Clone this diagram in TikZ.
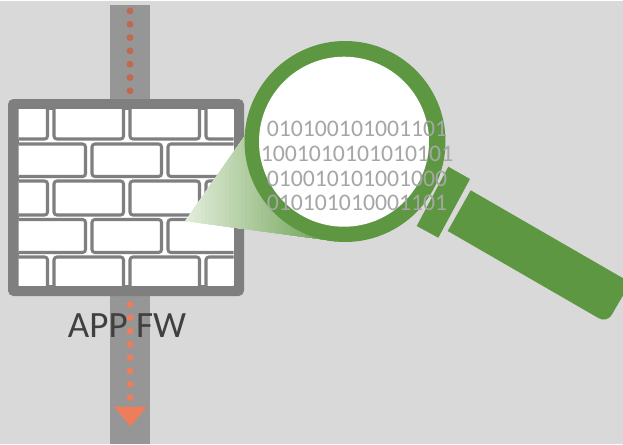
\documentclass[tikz,border=0pt]{standalone}
\usepackage{fontspec}
\setmainfont{Carlito}
\usepackage{xcolor}
\definecolor{bggray}{HTML}{D9D9D9}
\definecolor{wallgray}{HTML}{7F7F7F}
\definecolor{pipegray}{HTML}{969696}
\definecolor{lensgreen}{HTML}{5E9742}
\definecolor{conelight}{HTML}{E2EDDB}
\definecolor{dotorange}{HTML}{ED7D5B}
\definecolor{dottop}{HTML}{C0694F}
\usetikzlibrary{calc,positioning}
\tikzset{
    brick/.style={draw=wallgray, line width=2.3pt, fill=white, rounded corners=2.2pt},
    bits/.style={text=black!35, font=\fontsize{17.8pt}{18pt}\selectfont, inner sep=0pt},
}
\begin{document}
\begin{tikzpicture}[x=0.75pt,y=-0.75pt]
    \useasboundingbox (0,0) rectangle (623,444);
    \fill[bggray] (0,1) rectangle (623,444);

    % Draw pipe.
    \fill[pipegray] (110,5) rectangle (150,444);
    \foreach \y in {11,24.3,...,91}
        \fill[dottop] (130,\y) circle [radius=3.4];
    \foreach \y in {304.5,317.8,...,398}
        \fill[dotorange] (130,\y) circle [radius=3.4];
    \coordinate (tipl) at (114,406.5);
    \coordinate (tipr) at (147,406.5);
    \coordinate (tipb) at (130.5,426.5);
    \fill[dotorange] (tipl) -- (tipr) -- (tipb) -- cycle;

    % Draw wall.
    \fill[wallgray, rounded corners=4pt] (8,99) rectangle (244,296);
    \fill[white] (18.5,109.5) rectangle (233.5,285);
    \begin{scope}
        \clip (18.5,109.5) rectangle (233.5,285);
        \foreach \t/\b in {181/215, 105/139}
            \foreach \x in {-22,54,130,206}
                \draw[brick] (\x,\t) rectangle ++(69.5,\b-\t);
        \foreach \x in {-22,54,130,206}
            \draw[brick] (\x,257) rectangle ++(69.5,34);
        \foreach \t/\b in {144/176.5, 219.5/252.5}
            \foreach \x in {16,92,168}
                \draw[brick] (\x,\t) rectangle ++(69.5,\b-\t);
    \end{scope}

    % Draw handle.
    \fill[lensgreen] (448.3,166.7) -- (470,179) -- (438.3,237.7) -- (416.7,226) -- cycle;
    \fill[lensgreen] (470.7,190.3) [rounded corners=7pt] -- (630.5,282.5) -- (607,323) [sharp corners] -- (447.7,231) -- cycle;

    % Draw cone and lens.
    \begin{scope}
        \clip (185,221) -- (247,133) -- (345,141) -- (335,241) -- cycle;
        \foreach \i [evaluate=\i as \p using \i*2.5] in {0,...,40}
            \fill[lensgreen!\p!conelight] (185+4*\i,125) rectangle (345,250);
    \end{scope}
    \fill[lensgreen] (345,141.5) circle [radius=100.5];
    \fill[white] (344,141.7) circle [radius=85];

    % Draw text.
    \node[bits] (line1) at (357,129) {010100101001101};
    \node[bits] (line2) at (357,154) {1001010101010101};
    \node[bits] (line3) at (357,179) {010010101001000};
    \node[bits] (line4) at (357,203) {010101010001101};
    \node[text=black!75, font=\fontsize{27.8pt}{28pt}\selectfont, inner sep=0pt] (fwlabel) at (127,326) {APP FW};
\end{tikzpicture}
\end{document}
